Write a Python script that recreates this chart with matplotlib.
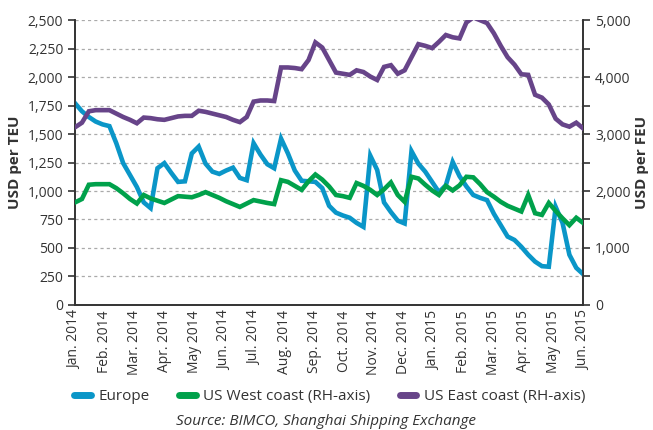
import numpy as np
import matplotlib.pyplot as plt
from matplotlib.lines import Line2D

# weekly container rates, Jan 2014 - Jun 2015
europe = [1770, 1700, 1650, 1610, 1585, 1570, 1420, 1245, 1140, 1035,
          900, 850, 1200, 1245, 1160, 1080, 1085, 1330, 1390, 1240,
          1170, 1150, 1180, 1205, 1115, 1095, 1420, 1320, 1235, 1200,
          1460, 1330, 1180, 1090, 1085, 1080, 1025, 870, 810, 785,
          765, 720, 685, 1310, 1185, 900, 815, 740, 715, 1350,
          1240, 1170, 1080, 990, 1050, 1255, 1130, 1040, 965, 940,
          920, 800, 700, 600, 570, 510, 440, 380, 340, 335,
          860, 720, 440, 325, 270]
us_west = [1800, 1860, 2110, 2120, 2120, 2120, 2050, 1960, 1860, 1780,
           1930, 1870, 1830, 1790, 1850, 1910, 1900, 1890, 1930, 1980,
           1930, 1880, 1820, 1770, 1720, 1780, 1840, 1815, 1790, 1770,
           2190, 2160, 2090, 2020, 2170, 2290, 2200, 2080, 1930, 1910,
           1880, 2140, 2090, 2020, 1930, 2030, 2150, 1930, 1810, 2250,
           2220, 2110, 2010, 1930, 2090, 2010, 2100, 2250, 2240, 2120,
           1980, 1900, 1810, 1740, 1690, 1640, 1930, 1610, 1580, 1790,
           1650, 1520, 1400, 1530, 1440]
us_east = [3120, 3200, 3400, 3420, 3420, 3420, 3360, 3300, 3250, 3190,
           3290, 3280, 3260, 3250, 3280, 3310, 3320, 3320, 3410, 3390,
           3360, 3330, 3300, 3250, 3210, 3300, 3570, 3590, 3590, 3580,
           4170, 4170, 4160, 4140, 4300, 4610, 4520, 4300, 4080, 4060,
           4040, 4120, 4090, 4010, 3950, 4180, 4210, 4060, 4120, 4350,
           4580, 4550, 4510, 4620, 4740, 4700, 4680, 4960, 5050, 5000,
           4950, 4770, 4550, 4350, 4220, 4050, 4040, 3690, 3640, 3520,
           3270, 3170, 3130, 3200, 3100]

months = ['Jan. 2014', 'Feb. 2014', 'Mar. 2014', 'Apr. 2014', 'May 2014', 'Jun. 2014',
          'Jul. 2014', 'Aug. 2014', 'Sep. 2014', 'Oct. 2014', 'Nov. 2014', 'Dec. 2014',
          'Jan. 2015', 'Feb. 2015', 'Mar. 2015', 'Apr. 2015', 'May 2015', 'Jun. 2015']

c_eu = '#0a96c8'
c_west = '#00a14b'
c_east = '#674489'
txt = '#333333'

plt.rcParams['font.family'] = ['Open Sans', 'DejaVu Sans']

fig = plt.figure(figsize=(6.53, 4.30), dpi=100)
ax = fig.add_axes([0.115, 0.291, 0.778, 0.662])
ax2 = ax.twinx()

weeks = np.arange(len(europe))
lw = 3.3
ax.plot(weeks, europe, color=c_eu, lw=lw, solid_joinstyle='miter', zorder=3)
ax2.plot(weeks, us_west, color=c_west, lw=lw, solid_joinstyle='miter', zorder=3)
ax2.plot(weeks, us_east, color=c_east, lw=lw, solid_joinstyle='miter', zorder=3)

ax.set_ylim(0, 2500)
ax2.set_ylim(0, 5000)
ax.set_xlim(0, len(europe) - 1)
ax.set_yticks(np.arange(0, 2501, 250))
ax2.set_yticks(np.arange(0, 5001, 1000))
ax2.set_yticks(np.arange(0, 5001, 500), minor=True)
ax.yaxis.set_major_formatter(plt.FuncFormatter(lambda v, p: f'{int(v):,}'))
ax2.yaxis.set_major_formatter(plt.FuncFormatter(lambda v, p: f'{int(v):,}'))

ax.set_xticks(np.linspace(0, len(europe) - 1, len(months)))
ax.set_xticklabels(months, rotation=90, fontsize=10, color=txt)
ax.tick_params(axis='x', length=0, pad=4)
ax.tick_params(axis='y', labelsize=10, colors=txt, length=5, width=1.2, direction='out')
ax2.tick_params(axis='y', which='both', labelsize=10, colors=txt, length=5, width=1.2, direction='out')

ax.grid(axis='y', linestyle=(0, (2.5, 2.5)), color='#aaaaaa', lw=0.9)
ax.set_axisbelow(True)

for a in (ax, ax2):
    a.spines['top'].set_visible(False)
    for s in ('left', 'right', 'bottom'):
        a.spines[s].set_color(txt)
        a.spines[s].set_linewidth(1.2)

ax.set_ylabel('USD per TEU', fontsize=11, fontweight='bold', color=txt, labelpad=4)
ax2.set_ylabel('USD per FEU', fontsize=11, fontweight='bold', color=txt,
               rotation=90, labelpad=3)

handles = [Line2D([0], [0], color=c_eu, lw=5, solid_capstyle='round'),
           Line2D([0], [0], color=c_west, lw=5, solid_capstyle='round'),
           Line2D([0], [0], color=c_east, lw=5, solid_capstyle='round')]
fig.legend(handles, ['Europe', 'US West coast (RH-axis)', 'US East coast (RH-axis)'],
           loc='center', bbox_to_anchor=(0.505, 0.078), ncol=3, frameon=False,
           fontsize=11, handlelength=1.1, handletextpad=0.5, columnspacing=1.9,
           labelcolor=txt)

fig.text(0.5, 0.02, 'Source: BIMCO, Shanghai Shipping Exchange', ha='center',
         va='center', fontsize=11, style='italic', color=txt)

fig.savefig('out.png', dpi=100)
